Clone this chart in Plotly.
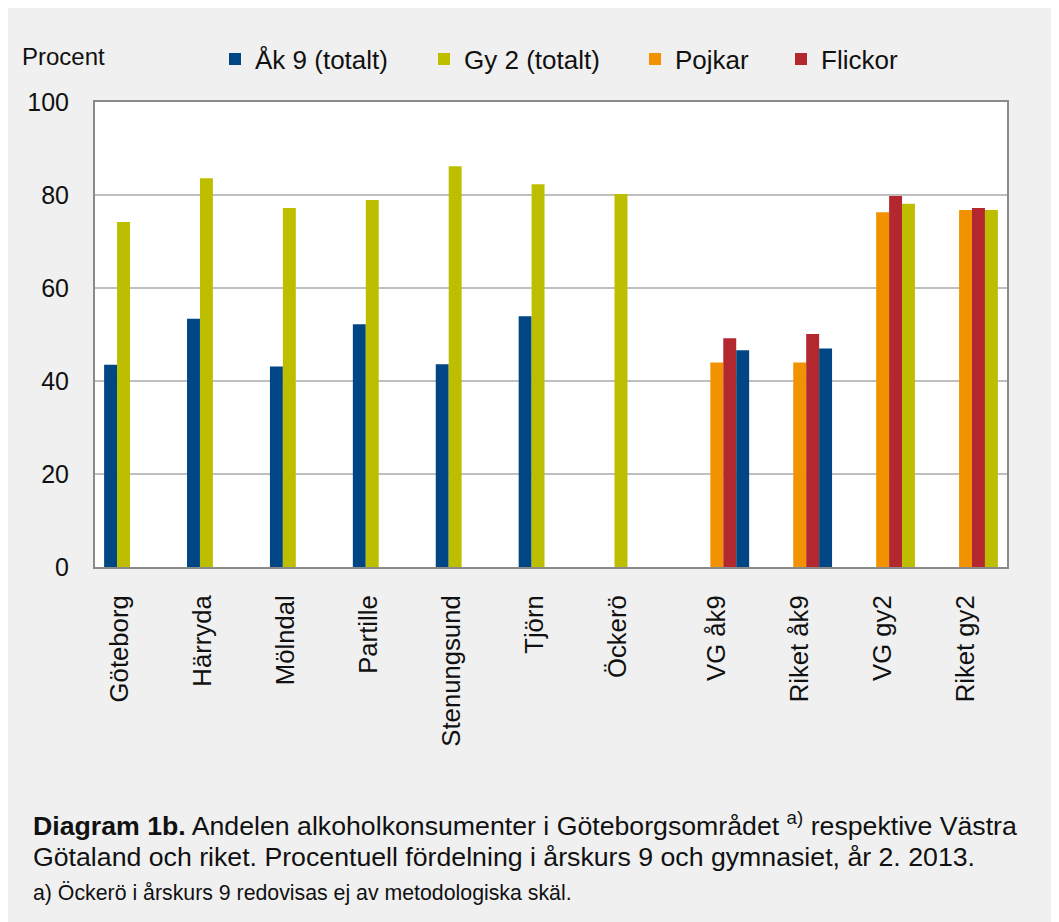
import plotly.graph_objects as go

# --- data ---
categories = ["Göteborg", "Härryda", "Mölndal", "Partille", "Stenungsund", "Tjörn", "Öckerö",
              "VG åk9", "Riket åk9", "VG gy2", "Riket gy2"]
ak9_totalt = [43.5, 53.4, 43.1, 52.2, 43.6, 53.9, None, None, None, None, None]
gy2_totalt = [74.2, 83.6, 77.2, 78.9, 86.2, 82.3, 80.2, None, None, None, None]
pojkar = [None, None, None, None, None, None, None, 44.0, 44.0, 76.3, 76.8]
flickor = [None, None, None, None, None, None, None, 49.2, 50.1, 79.8, 77.2]
region_totalt = [None, None, None, None, None, None, None, 46.6, 47.0, 78.1, 76.8]
y_ticks = [0, 20, 40, 60, 80, 100]

BLUE = "#004684"
GREEN = "#bebe00"
ORANGE = "#f39200"
RED = "#b3282f"
FONT = "Liberation Sans, Arial, sans-serif"

# page geometry (figure sits 8px in from the page corner)
W, H = 1059, 922
OFF = 8
L, R, T, B = 87, 60, 94, 363
PW, PH = W - L - R, H - T - B


def px_x(x):
    # screen x -> paper x
    return (x - OFF - L) / PW


def px_y(y):
    # screen y -> paper y
    return (H - B - (y - OFF)) / PH


# municipality labels carry an empty second line (shifts them left like in the original)
tick_text = [c + "<br>\u00a0" if i < 7 else c for i, c in enumerate(categories)]
region_colors = [BLUE if "åk9" in c else GREEN for c in categories]

fig = go.Figure()
fig.add_trace(go.Bar(x=categories, y=ak9_totalt, name="Åk 9 (totalt)",
                     marker=dict(color=BLUE, line=dict(width=0)), legend="legend"))
fig.add_trace(go.Bar(x=categories, y=gy2_totalt, name="Gy 2 (totalt)",
                     marker=dict(color=GREEN, line=dict(width=0)), legend="legend2"))
fig.add_trace(go.Bar(x=categories, y=pojkar, name="Pojkar",
                     marker=dict(color=ORANGE, line=dict(width=0)), legend="legend3"))
fig.add_trace(go.Bar(x=categories, y=flickor, name="Flickor",
                     marker=dict(color=RED, line=dict(width=0)), legend="legend4"))
fig.add_trace(go.Bar(x=categories, y=region_totalt, name="Totalt",
                     marker=dict(color=region_colors, line=dict(width=0)), showlegend=False))

legend_style = dict(orientation="h", xanchor="left", yanchor="middle", bgcolor="rgba(0,0,0,0)",
                    font=dict(family=FONT, size=26, color="#111111"))
text_starts = [256, 465, 676, 822]
legends = {}
for i, xs in enumerate(text_starts):
    key = "legend" if i == 0 else f"legend{i + 1}"
    legends[key] = dict(legend_style, x=px_x(xs - 41), y=px_y(59))

fig.update_layout(
    width=W, height=H,
    margin=dict(l=L, r=R, t=T, b=B),
    paper_bgcolor="#f0f0f0",
    plot_bgcolor="white",
    barmode="group",
    bargap=0.22,
    bargroupgap=0,
    font=dict(family=FONT, size=25, color="#111111"),
    **legends,
    xaxis=dict(
        tickmode="array", tickvals=categories, ticktext=tick_text,
        tickangle=-90, tickfont=dict(size=25.7), ticklabelstandoff=16,
        showline=True, linecolor="#8a8a8a", linewidth=2, mirror=True,
        showgrid=False, ticks="",
    ),
    yaxis=dict(
        range=[0, 100], tickvals=y_ticks, tickfont=dict(size=25),
        ticklabelstandoff=19,
        showline=True, linecolor="#8a8a8a", linewidth=2, mirror=True,
        showgrid=True, gridcolor="#bfbfbf", gridwidth=2, zeroline=False, ticks="",
    ),
)

fig.add_annotation(text="Procent", xref="paper", yref="paper", x=px_x(20), y=px_y(56),
                   xanchor="left", yanchor="middle", showarrow=False, font=dict(size=24))

fig.add_annotation(
    text="<b>Diagram 1b.</b> Andelen alkoholkonsumenter i Göteborgsområdet <sup>a)</sup> respektive Västra",
    xref="paper", yref="paper", x=px_x(31), y=px_y(824), xanchor="left", yanchor="middle",
    showarrow=False, font=dict(size=26.7))
fig.add_annotation(
    text="Götaland och riket. Procentuell fördelning i årskurs 9 och gymnasiet, år 2. 2013.",
    xref="paper", yref="paper", x=px_x(31), y=px_y(857), xanchor="left", yanchor="middle",
    showarrow=False, font=dict(size=26.7))
fig.add_annotation(
    text="a) Öckerö i årskurs 9 redovisas ej av metodologiska skäl.",
    xref="paper", yref="paper", x=px_x(31), y=px_y(893), xanchor="left", yanchor="middle",
    showarrow=False, font=dict(size=21.3))

fig.write_html("out.html")
